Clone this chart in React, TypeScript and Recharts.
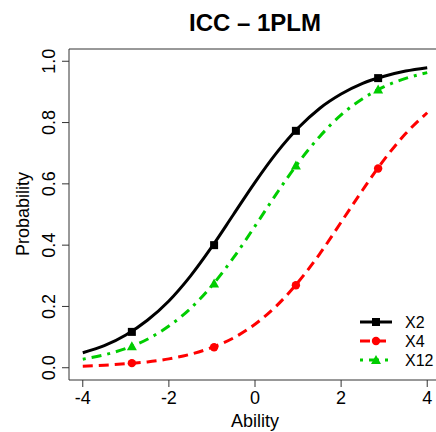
import React from 'react'
import {
  ComposedChart, Line, Scatter, XAxis, YAxis, ReferenceArea,
} from 'recharts'

// ── data ─────────────────────────────────────────────────────────────────
const ABILITY = [-4, -3.5, -3, -2.5, -2, -1.5, -1, -0.5, 0, 0.5, 1, 1.5, 2, 2.5, 3, 3.5, 4]
const X2_P  = [0.049, 0.072, 0.107, 0.155, 0.218, 0.299, 0.395, 0.5, 0.605, 0.701, 0.782, 0.846, 0.893, 0.928, 0.951, 0.968, 0.979]
const X4_P  = [0.005, 0.008, 0.013, 0.019, 0.029, 0.044, 0.066, 0.097, 0.142, 0.202, 0.279, 0.371, 0.475, 0.58, 0.679, 0.764, 0.832]
const X12_P = [0.028, 0.042, 0.063, 0.093, 0.136, 0.193, 0.268, 0.359, 0.462, 0.568, 0.668, 0.754, 0.825, 0.878, 0.917, 0.944, 0.963]

const MARK_X   = [-2.86, -0.95, 0.95, 2.86]
const X2_MARK  = [0.117, 0.4, 0.773, 0.945]
const X4_MARK  = [0.015, 0.067, 0.269, 0.65]
const X12_MARK = [0.07, 0.275, 0.66, 0.908]

const X_TICKS = [-4, -2, 0, 2, 4]
const Y_TICKS = [0, 0.2, 0.4, 0.6, 0.8, 1]

const FONT = '"Liberation Sans", Arial, sans-serif'
const BLACK = '#000000'
const RED = '#ff0000'
const GREEN = '#00cd00'
const RED_DASH = '10 6'
const GREEN_DASH = '3 6 10 6'

const curveData = ABILITY.map((x, i) => ({ x, X2: X2_P[i], X4: X4_P[i], X12: X12_P[i] }))
const marks = (ys: number[]) => MARK_X.map((x, i) => ({ x, y: ys[i] }))

const Square = (p: any) => <rect x={p.cx - 4} y={p.cy - 4} width={8} height={8} fill={BLACK} />
const Dot = (p: any) => <circle cx={p.cx} cy={p.cy} r={4.2} fill={RED} />
const Tri = (p: any) => (
  <polygon points={`${p.cx},${p.cy - 5} ${p.cx - 5},${p.cy + 4} ${p.cx + 5},${p.cy + 4}`} fill={GREEN} />
)

function YTick({ y, payload }: any) {
  return (
    <g transform={`translate(55, ${y}) rotate(-90)`}>
      <text x={0} y={0} textAnchor="middle" fontSize={18} fontFamily={FONT} fill="#000">
        {Number(payload.value).toFixed(1)}
      </text>
    </g>
  )
}

const LEGEND = [
  { name: 'X2', color: BLACK, dash: undefined, mark: 'square' },
  { name: 'X4', color: RED, dash: RED_DASH, mark: 'circle' },
  { name: 'X12', color: GREEN, dash: GREEN_DASH, mark: 'triangle' },
]

export default function App() {
  return (
    <div style={{ position: 'absolute', left: 0, top: 0, width: 436, height: 432, overflow: 'hidden', background: '#fff' }}>
      <ComposedChart
        width={450}
        height={432}
        data={curveData}
        margin={{ top: 49, right: 9, bottom: 0, left: 0 }}
      >
        <XAxis
          type="number"
          dataKey="x"
          domain={[-4.32, 4.32]}
          ticks={X_TICKS}
          allowDataOverflow
          height={52}
          tickSize={7}
          tickMargin={4}
          axisLine={false}
          tickLine={{ stroke: '#333' }}
          tick={{ fontSize: 18, fill: '#000', fontFamily: FONT }}
        />
        <YAxis
          type="number"
          domain={[-0.04, 1.04]}
          ticks={Y_TICKS}
          allowDataOverflow
          width={69}
          tickSize={7}
          axisLine={false}
          tickLine={{ stroke: '#333' }}
          tick={<YTick />}
        />
        <ReferenceArea
          x1={-4.32} x2={4.32} y1={-0.04} y2={1.04}
          fill="none" fillOpacity={0} stroke="#333" strokeWidth={1} ifOverflow="visible"
        />
        <Line dataKey="X2" type="monotone" stroke={BLACK} strokeWidth={3} dot={false} isAnimationActive={false} />
        <Line dataKey="X4" type="monotone" stroke={RED} strokeWidth={3} strokeDasharray={RED_DASH} dot={false} isAnimationActive={false} />
        <Line dataKey="X12" type="monotone" stroke={GREEN} strokeWidth={3} strokeDasharray={GREEN_DASH} dot={false} isAnimationActive={false} />
        <Scatter data={marks(X2_MARK)} dataKey="y" shape={Square} isAnimationActive={false} />
        <Scatter data={marks(X4_MARK)} dataKey="y" shape={Dot} isAnimationActive={false} />
        <Scatter data={marks(X12_MARK)} dataKey="y" shape={Tri} isAnimationActive={false} />
      </ComposedChart>

      <svg width={436} height={432} style={{ position: 'absolute', left: 0, top: 0, pointerEvents: 'none' }}>
        <text x={255} y={31} textAnchor="middle" fontSize={24} fontWeight="bold" fontFamily={FONT} fill="#000">
          ICC – 1PLM
        </text>
        <text x={255} y={427} textAnchor="middle" fontSize={18} fontFamily={FONT} fill="#000">
          Ability
        </text>
        <g transform="translate(29, 214) rotate(-90)">
          <text x={0} y={0} textAnchor="middle" fontSize={18} fontFamily={FONT} fill="#000">
            Probability
          </text>
        </g>
        {LEGEND.map((l, i) => {
          const cy = 322 + i * 19
          return (
            <g key={l.name}>
              <line x1={360} x2={392} y1={cy} y2={cy} stroke={l.color} strokeWidth={3} strokeDasharray={l.dash} />
              {l.mark === 'square' && <rect x={372} y={cy - 4} width={8} height={8} fill={l.color} />}
              {l.mark === 'circle' && <circle cx={376} cy={cy} r={4.2} fill={l.color} />}
              {l.mark === 'triangle' && <polygon points={`376,${cy - 5} 371,${cy + 4} 381,${cy + 4}`} fill={l.color} />}
              <text x={405} y={cy + 6} fontSize={16} fontFamily={FONT} fill="#000">{l.name}</text>
            </g>
          )
        })}
      </svg>
    </div>
  )
}
